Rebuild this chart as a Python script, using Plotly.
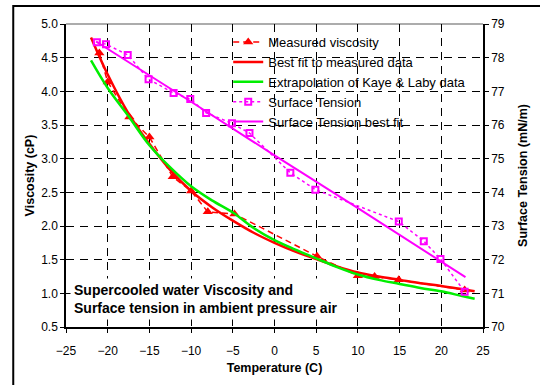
import plotly.graph_objects as go

# ---- data ----
temp_meas = [-21.0, -20.0, -17.4, -15.0, -12.2, -10.0, -8.0, -4.8, 5.1, 10.0, 12.0, 14.9, 22.8]
visc_meas = [4.57, 4.14, 3.62, 3.32, 2.73, 2.52, 2.21, 2.18, 1.55, 1.26, 1.25, 1.20, 1.05]

temp_fit = [-22, -20, -17.5, -15, -12.5, -10, -7.5, -5, -2.5, 0, 2.5, 5, 7.5, 10, 12.5, 15, 17.5, 20, 22.5, 24]
visc_fit = [4.80, 4.25, 3.67, 3.22, 2.83, 2.52, 2.28, 2.08, 1.90, 1.75, 1.62, 1.51, 1.40, 1.31, 1.25, 1.20, 1.15, 1.11, 1.06, 1.03]
visc_kl = [4.46, 4.05, 3.63, 3.20, 2.87, 2.59, 2.38, 2.20, 1.97, 1.79, 1.65, 1.52, 1.39, 1.28, 1.20, 1.14, 1.08, 1.03, 0.96, 0.92]

temp_st = [-21.3, -20.2, -17.6, -15.1, -12.1, -10.1, -8.2, -5.1, -3.0, 1.9, 4.9, 14.9, 17.9, 19.9, 22.8]
surf_tension = [78.46, 78.40, 78.08, 77.36, 76.95, 76.77, 76.36, 76.05, 75.76, 74.58, 74.08, 73.13, 72.55, 72.02, 71.05]

temp_stfit = [-21.4, -10, 0, 10, 22.9]
st_fit = [78.48, 76.69, 75.10, 73.53, 71.48]

x_ticks = [-25, -20, -15, -10, -5, 0, 5, 10, 15, 20, 25]
y_ticks = [0.5, 1.0, 1.5, 2.0, 2.5, 3.0, 3.5, 4.0, 4.5, 5.0]
y2_ticks = [70, 71, 72, 73, 74, 75, 76, 77, 78, 79]

FONT = "Arial, 'Liberation Sans', sans-serif"
RED = "#FF0000"
GREEN = "#00EE00"
PINK = "#FF00FF"

fig = go.Figure()
fig.add_trace(go.Scatter(x=temp_meas, y=visc_meas, mode="lines+markers", name="Measured viscosity",
                         line=dict(color=RED, width=1.5, dash="6px,4px"),
                         marker=dict(symbol="triangle-up", size=9, color=RED)))
fig.add_trace(go.Scatter(x=temp_fit, y=visc_fit, mode="lines", name="Best fit to measured data",
                         line=dict(color=RED, width=2.5, shape="spline")))
fig.add_trace(go.Scatter(x=temp_fit, y=visc_kl, mode="lines", name="Extrapolation of Kaye & Laby data",
                         line=dict(color=GREEN, width=2.5, shape="spline")))
fig.add_trace(go.Scatter(x=temp_st, y=surf_tension, mode="lines+markers", name="Surface Tension", yaxis="y2",
                         line=dict(color=PINK, width=1.5, dash="dot"),
                         marker=dict(symbol="square-open", size=6, color=PINK, line=dict(width=2, color=PINK))))
fig.add_trace(go.Scatter(x=temp_stfit, y=st_fit, mode="lines", name="Surface Tension best fit", yaxis="y2",
                         line=dict(color=PINK, width=2, shape="spline")))

GRID = dict(showgrid=True, gridcolor="black", gridwidth=1, griddash="8px,6px")

fig.update_layout(
    width=540, height=385,
    margin=dict(l=66, r=47, t=24, b=52),
    paper_bgcolor="white", plot_bgcolor="rgba(0,0,0,0)",
    font=dict(family=FONT, size=12, color="black"),
    showlegend=True,
    legend=dict(x=0.389, y=0.99, xanchor="left", yanchor="top", bgcolor="rgba(255,255,255,0)",
                font=dict(family=FONT, size=13, color="black"), borderwidth=0),
    xaxis=dict(range=[-25, 25], tickvals=x_ticks, ticks="outside", ticklen=4, tickcolor="black",
               showline=True, linecolor="black", linewidth=1.5, zeroline=False,
               ticklabelstandoff=8,
               title=dict(text="<b>Temperature (C)</b>", font=dict(size=12.5), standoff=6),
               **GRID),
    yaxis=dict(range=[0.5, 5.0], tickvals=y_ticks, tickformat=".1f", ticks="outside", ticklen=4,
               tickcolor="black", showline=True, linecolor="black", linewidth=1.5, zeroline=False,
               title=dict(text="<b>Viscosity (cP)</b>", font=dict(size=12.5), standoff=4),
               **GRID),
    yaxis2=dict(range=[70, 79], tickvals=y2_ticks, overlaying="y", side="right", anchor="x",
                ticks="outside", ticklen=4, tickcolor="black", showline=True, linecolor="black",
                linewidth=1.5, zeroline=False,
                title=dict(text="<b>Surface Tension (mN/m)</b>", font=dict(size=12.5), standoff=14),
                **GRID),
)

# gray top border of the plot area
fig.add_shape(type="line", xref="paper", yref="paper", x0=0, x1=1, y0=1, y1=1,
              line=dict(color="#909090", width=1.5), layer="below")
# white background behind the legend (covers gridlines only)
fig.add_shape(type="rect", xref="paper", yref="paper", x0=0.384, x1=0.965, y0=0.736, y1=0.981,
              fillcolor="white", line=dict(width=0), layer="between")
# outer chart frame
fig.add_shape(type="rect", xref="paper", yref="paper", x0=-0.1265, x1=1.3, y0=-0.4, y1=1.0592,
              line=dict(color="black", width=2), fillcolor="rgba(0,0,0,0)", layer="above")

fig.add_annotation(x=-24.55, y=0.915, xref="x", yref="y", xanchor="left", yanchor="middle",
                   text="<b>Supercooled water Viscosity and<br>Surface tension in ambient pressure air</b>",
                   align="left", showarrow=False, bgcolor="white", borderpad=3,
                   font=dict(family=FONT, size=14, color="black"))

fig.write_html("out.html")
